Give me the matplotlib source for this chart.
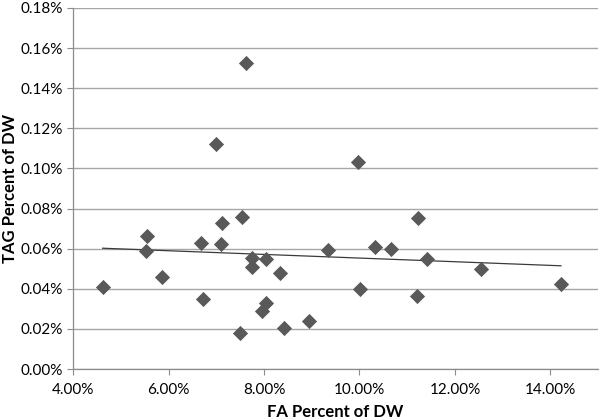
import numpy as np
import matplotlib
matplotlib.use("Agg")
import matplotlib.pyplot as plt
from matplotlib.ticker import FuncFormatter

# FA (% of DW) vs TAG (% of DW)
fa_pct = [4.62, 5.55, 5.53, 5.86, 6.68, 6.72, 7.00, 7.12, 7.09, 7.54,
          7.63, 7.49, 7.75, 7.75, 8.05, 8.05, 7.95, 8.33, 8.42, 8.94,
          9.34, 9.97, 10.02, 10.32, 10.66, 11.22, 11.21, 11.41, 12.55, 14.22]
tag_pct = [0.0410, 0.0662, 0.0590, 0.0460, 0.0628, 0.0350, 0.1120, 0.0726, 0.0625, 0.0756,
           0.1527, 0.0180, 0.0554, 0.0509, 0.0549, 0.0327, 0.0290, 0.0479, 0.0202, 0.0240,
           0.0592, 0.1030, 0.0400, 0.0608, 0.0600, 0.0755, 0.0363, 0.0547, 0.0500, 0.0426]

x_ticks = [4, 6, 8, 10, 12, 14]
y_ticks = [0.00, 0.02, 0.04, 0.06, 0.08, 0.10, 0.12, 0.14, 0.16, 0.18]

plt.rcParams["font.family"] = ["Lato", "DejaVu Sans"]

fig = plt.figure(figsize=(6, 4.2), dpi=100)
ax = fig.add_axes([0.1217, 0.1214, 0.8753, 0.8596])

x = np.array(fa_pct)
y = np.array(tag_pct)

ax.scatter(x, y, marker="D", s=60, color="#595959", zorder=3, linewidths=0)

# linear trendline across data range
slope, icpt = np.polyfit(x, y, 1)
xs = np.array([x.min(), x.max()])
ax.plot(xs, slope * xs + icpt, color="#3a3a3a", lw=0.9, zorder=2)

ax.set_xlim(4, 15)
ax.set_ylim(0, 0.18)
ax.set_xticks(x_ticks)
ax.set_yticks(y_ticks)
ax.xaxis.set_major_formatter(FuncFormatter(lambda v, p: f"{v:.2f}%"))
ax.yaxis.set_major_formatter(FuncFormatter(lambda v, p: f"{v:.2f}%"))
ax.tick_params(labelsize=11, colors="#000000", length=4, width=0.8)
ax.tick_params(axis="both", color="#8c8c8c")
ax.tick_params(axis="x", pad=6)
ax.tick_params(axis="y", pad=3)

ax.grid(axis="y", color="#a6a6a6", lw=1)
ax.set_axisbelow(True)
for s in ["top", "right"]:
    ax.spines[s].set_visible(False)
for s in ["left", "bottom"]:
    ax.spines[s].set_color("#8c8c8c")
    ax.spines[s].set_linewidth(0.9)

ax.set_xlabel("FA Percent of DW", fontsize=12, fontweight="bold", labelpad=5)
ax.set_ylabel("TAG Percent of DW", fontsize=12, fontweight="bold")
ax.yaxis.set_label_coords(-0.104, 0.5)

fig.savefig("out.png", dpi=100)
